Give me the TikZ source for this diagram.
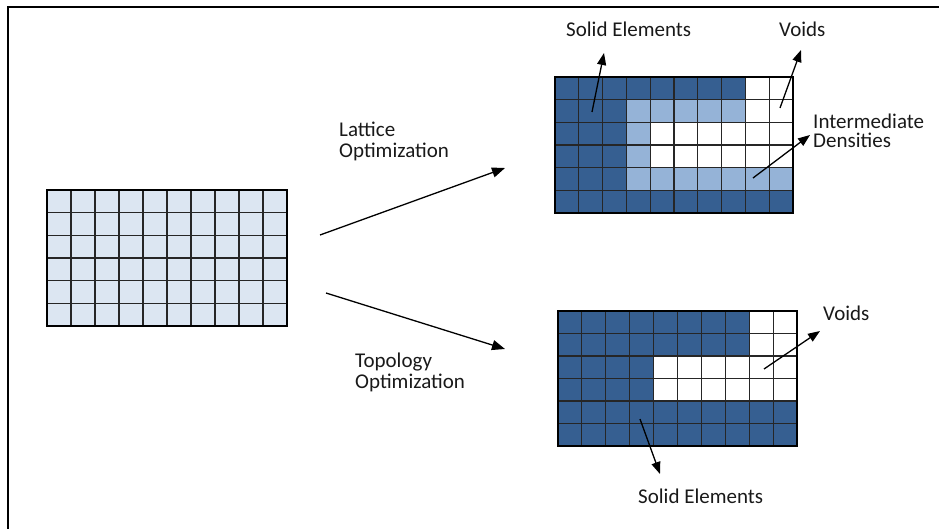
\documentclass[tikz,border=0pt]{standalone}
\usepackage{fontspec}
\setmainfont{Carlito}
\usetikzlibrary{arrows.meta}

\definecolor{solidblue}{HTML}{365F91}
\definecolor{midblue}{HTML}{95B3D7}
\definecolor{paleblue}{HTML}{DCE6F2}
\colorlet{cellD}{solidblue}
\colorlet{cellL}{midblue}
\colorlet{cellW}{white}
\colorlet{cellP}{paleblue}

% #1,#2: top-left corner; #3,#4: cell width/height; #5: rows of cell codes
\newcommand\meshgrid[5]{%
  \foreach \rowcells [count=\r from 0] in {#5}{
    \foreach \cc [count=\k from 0] in \rowcells {
      \fill[cell\cc] ({#1+\k*#3},{#2+\r*#4}) rectangle ++(#3,#4);
    }
  }
  \foreach \k in {0,...,10} \draw[gridline] ({#1+\k*#3},#2) -- ++(0,{6*#4});
  \foreach \r in {0,...,6} \draw[gridline] (#1,{#2+\r*#4}) -- ++({10*#3},0);
  \draw[gridframe] (#1,#2) rectangle ++({10*#3},{6*#4});
}

\tikzset{
  gridline/.style={line width=1.1pt, draw=black!85},
  gridframe/.style={line width=1.5pt, draw=black},
  label/.style={font=\fontsize{21}{21}\selectfont, inner sep=0pt, anchor=base west, align=left, text=black!90},
  flow/.style={line width=1.3pt, -{Triangle[length=13pt,width=10pt]}},
  callout/.style={line width=1.3pt, -{Triangle[length=12pt,width=9pt]}},
}

\begin{document}
\begin{tikzpicture}[x=1pt,y=-1pt]
\useasboundingbox (0,0) rectangle (939,529);

% partial frame
\draw[line width=2pt] (939,7) -- (8,7) -- (8,529);

% initial uniform mesh
\meshgrid{47}{190}{24}{22.67}{
  {P,P,P,P,P,P,P,P,P,P},{P,P,P,P,P,P,P,P,P,P},{P,P,P,P,P,P,P,P,P,P},
  {P,P,P,P,P,P,P,P,P,P},{P,P,P,P,P,P,P,P,P,P},{P,P,P,P,P,P,P,P,P,P}}

% lattice optimization result
\meshgrid{555}{77}{23.8}{22.67}{
  {D,D,D,D,D,D,D,D,W,W},
  {D,D,D,L,L,L,L,L,W,W},
  {D,D,D,L,W,W,W,W,W,W},
  {D,D,D,L,W,W,W,W,W,W},
  {D,D,D,L,L,L,L,L,L,L},
  {D,D,D,D,D,D,D,D,D,D}}

% topology optimization result
\meshgrid{558}{311}{23.9}{22.5}{
  {D,D,D,D,D,D,D,D,W,W},
  {D,D,D,D,D,D,D,D,W,W},
  {D,D,D,D,W,W,W,W,W,W},
  {D,D,D,D,W,W,W,W,W,W},
  {D,D,D,D,D,D,D,D,D,D},
  {D,D,D,D,D,D,D,D,D,D}}

% labels (multi-line nodes are placed by the baseline of their last line)
\node[label] (latopt) at (339,158) {Lattice\\Optimization};
\node[label] (topopt) at (355,388) {Topology\\Optimization};
\node[label] (solidA) at (566,37) {Solid Elements};
\node[label] (voidsA) at (779,37) {Voids};
\node[label, font=\fontsize{21}{19}\selectfont] (interA) at (813,148) {Intermediate\\Densities};
\node[label] (voidsB) at (823,320) {Voids};
\node[label] (solidB) at (638,503) {Solid Elements};

% connector end points
\coordinate (latS) at (320,235);
\coordinate (latE) at (505,168);
\coordinate (topS) at (326,293);
\coordinate (topE) at (505,349);
\coordinate (sAt) at (592,112);
\coordinate (sAh) at (604,53);
\coordinate (vAt) at (780,108);
\coordinate (vAh) at (801,50);
\coordinate (iAt) at (753,178);
\coordinate (iAh) at (810,135);
\coordinate (vBt) at (764,369);
\coordinate (vBh) at (820,331);
\coordinate (sBt) at (640,419);
\coordinate (sBh) at (660,474);

\draw[flow] (latS) -- (latE);
\draw[flow] (topS) -- (topE);
\draw[callout] (sAt) -- (sAh);
\draw[callout] (vAt) -- (vAh);
\draw[callout] (iAt) -- (iAh);
\draw[callout] (vBt) -- (vBh);
\draw[callout] (sBt) -- (sBh);
\end{tikzpicture}
\end{document}
